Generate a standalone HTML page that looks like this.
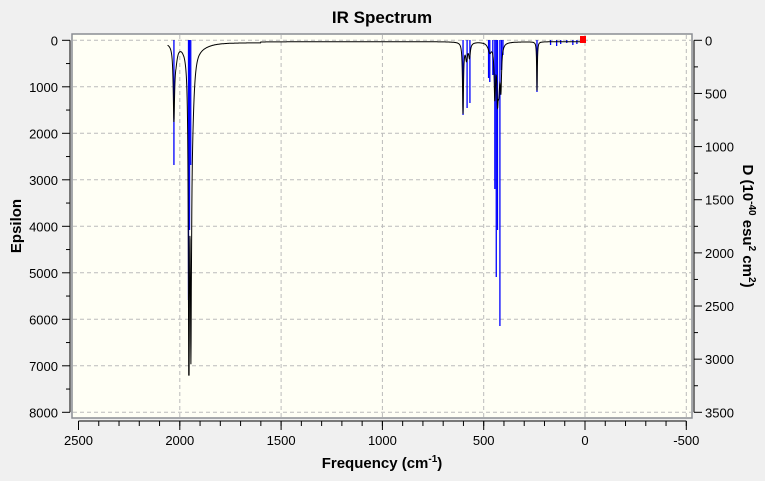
<!DOCTYPE html>
<html><head><style>
body{margin:0;background:#f0f0f0;width:765px;height:476px;overflow:hidden;font-family:"Liberation Sans",sans-serif;}
</style></head><body>
<svg id="s" width="765" height="476" xmlns="http://www.w3.org/2000/svg" font-family="Liberation Sans, sans-serif">
<text x="382" y="23" font-size="17" font-weight="bold" text-anchor="middle">IR Spectrum</text>
<rect x="72" y="34" width="620" height="384" fill="#fffff5" stroke="#8a8d93" stroke-width="1.5"/>
<g id="grid" stroke="#bbb" stroke-dasharray="4,3" stroke-width="1"></g>
<g id="axes" stroke="#000" stroke-width="1"></g>
<g id="lbl" font-size="13"></g>
<g id="sticks" stroke="#0000ff" stroke-width="1.3"></g>
<path id="curve" fill="none" stroke="#000" stroke-width="1"/>
<rect x="580" y="36" width="6" height="7" fill="#f00"/>
<text x="382" y="468" font-size="15" font-weight="bold" text-anchor="middle">Frequency (cm<tspan dy="-6" font-size="10">-1</tspan><tspan dy="6">)</tspan></text>
<text transform="translate(21,226) rotate(-90)" font-size="15" font-weight="bold" text-anchor="middle">Epsilon</text>
<text transform="translate(743,226) rotate(90)" font-size="15" font-weight="bold" text-anchor="middle">D (10<tspan dy="-6" font-size="10">-40</tspan><tspan dy="6"> esu</tspan><tspan dy="-6" font-size="10">2</tspan><tspan dy="6"> cm</tspan><tspan dy="-6" font-size="10">2</tspan><tspan dy="6">)</tspan></text>
</svg>
<script>
const NS="http://www.w3.org/2000/svg";
function px(f){return 585-f*0.2026;}
function py(e){return 40.3+e*0.0465;}
function el(p,t,a,txt){const e=document.createElementNS(NS,t);for(const k in a)e.setAttribute(k,a[k]);if(txt!==undefined)e.textContent=txt;document.getElementById(p).appendChild(e);}
for(let f=2500;f>=-500;f-=500){let x=px(f);if(f<2500)el("grid","line",{x1:x,y1:35,x2:x,y2:417});
 el("axes","line",{x1:x,y1:421,x2:x,y2:430});el("lbl","text",{x:x,y:445,"text-anchor":"middle"},f);}
for(let f=2500;f>=-500;f-=100){let x=px(f);el("axes","line",{x1:x,y1:421,x2:x,y2:426});}
el("axes","line",{x1:px(2500),y1:421,x2:px(-500),y2:421});
for(let e=0;e<=8000;e+=1000){let y=py(e);el("grid","line",{x1:73,y1:y,x2:691,y2:y});
 el("axes","line",{x1:62,y1:y,x2:70,y2:y});el("lbl","text",{x:58,y:y+5,"text-anchor":"end"},e);}
for(let e=500;e<8000;e+=1000){let y=py(e);el("axes","line",{x1:66,y1:y,x2:70,y2:y});}
el("axes","line",{x1:70,y1:py(0),x2:70,y2:py(8000)});
el("axes","line",{x1:694,y1:py(0),x2:694,y2:py(8000)});
for(let d=0;d<=3500;d+=500){let y=py(d*8000/3500);el("axes","line",{x1:694,y1:y,x2:702,y2:y});el("lbl","text",{x:705,y:y+5},d);}
for(let d=250;d<3500;d+=500){let y=py(d*8000/3500);el("axes","line",{x1:694,y1:y,x2:698,y2:y});}
// sticks [freq, y-end px]
const st=[[2029,165],[1957,300],[1952,230],[1946,165],[602,115],[582,108],[568,103],[476,78],[470,82],[455,75],[445,189],[438,277],[432,230],[420,326],[412,70],[405,55],[237,92],[170,45],[140,46],[120,44],[90,43],[60,45],[40,44]];
st.forEach(s=>el("sticks","line",{x1:px(s[0]),y1:40,x2:px(s[0]),y2:s[1]}));
// black curve
const pk=[[2029,1500,4],[2020,300,10],[1955,7200,3],[1945,5000,3],[1940,1500,12],[1900,80,60],[602,1500,3],[585,350,6],[570,300,5],[445,1100,4],[432,1000,4],[425,800,5],[415,900,4],[237,1050,2],[470,200,10]];
let d="";
for(let f=2060;f>=10;f-=1){let e=30;pk.forEach(p=>{e+=p[1]/(1+((f-p[0])/p[2])**2);});if(f>1600)e+=20*(1-(f-1600)/460);d+=(d?"L":"M")+px(f).toFixed(1)+","+py(Math.min(e,7200)).toFixed(1);}
document.getElementById("curve").setAttribute("d",d);
</script>
</body></html>
